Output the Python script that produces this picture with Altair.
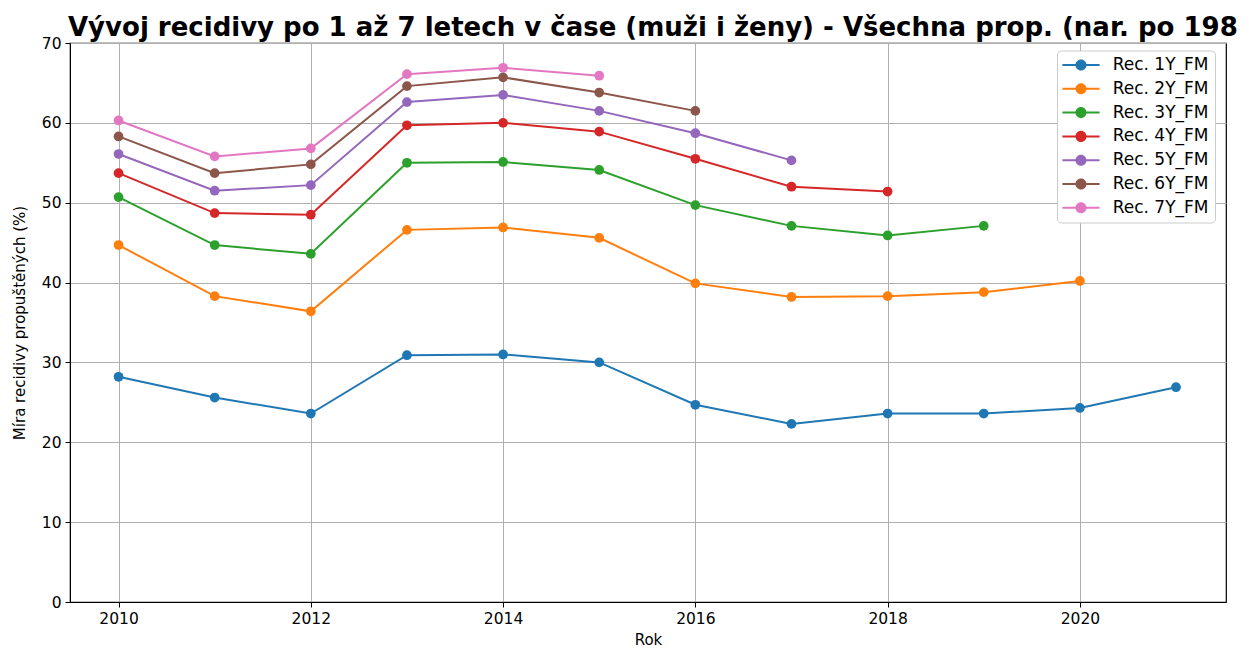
import altair as alt
import pandas as pd

years = list(range(2010, 2022))
series_names = ["Rec. 1Y_FM", "Rec. 2Y_FM", "Rec. 3Y_FM", "Rec. 4Y_FM",
                "Rec. 5Y_FM", "Rec. 6Y_FM", "Rec. 7Y_FM"]
rec1 = [28.2, 25.6, 23.6, 30.9, 31.0, 30.0, 24.7, 22.3, 23.6, 23.6, 24.3, 26.9]
rec2 = [44.7, 38.3, 36.4, 46.6, 46.9, 45.6, 39.9, 38.2, 38.3, 38.8, 40.2]
rec3 = [50.7, 44.7, 43.6, 55.0, 55.1, 54.1, 49.7, 47.1, 45.9, 47.1]
rec4 = [53.7, 48.7, 48.5, 59.7, 60.0, 58.9, 55.5, 52.0, 51.4]
rec5 = [56.1, 51.5, 52.2, 62.6, 63.5, 61.5, 58.7, 55.3]
rec6 = [58.3, 53.7, 54.8, 64.6, 65.7, 63.8, 61.5]
rec7 = [60.3, 55.8, 56.8, 66.1, 66.9, 65.9]
all_series = [rec1, rec2, rec3, rec4, rec5, rec6, rec7]
colors = ["#1f77b4", "#ff7f0e", "#2ca02c", "#d62728", "#9467bd", "#8c564b", "#e377c2"]
x_ticks = [2010, 2012, 2014, 2016, 2018, 2020]
y_ticks = [0, 10, 20, 30, 40, 50, 60, 70]

rows = []
for name, vals in zip(series_names, all_series):
    for yr, v in zip(years, vals):
        rows.append({"Rok": yr, "value": v, "series": name})
df = pd.DataFrame(rows)

FONT = "DejaVu Sans"
legend_path = ("M-6.2,-0.33L6.2,-0.33L6.2,0.33L-6.2,0.33Z "
               "M1.85,0A1.85,1.85,0,1,1,-1.85,0A1.85,1.85,0,1,1,1.85,0Z")

x_enc = alt.X("Rok:Q",
              scale=alt.Scale(domain=[2009.495, 2021.52], nice=False, zero=False),
              axis=alt.Axis(values=x_ticks, format="d", title="Rok"))
y_enc = alt.Y("value:Q",
              scale=alt.Scale(domain=[0, 70], nice=False),
              axis=alt.Axis(values=y_ticks, title="Míra recidivy propuštěných (%)"))
legend = alt.Legend(title=None, symbolType=legend_path,
                    symbolSize=36, symbolStrokeWidth=0,
                    symbolOpacity=1,
                    orient="none", legendX=987, legendY=7.5,
                    labelOffset=23.2, symbolOffset=9.5)
color_enc = alt.Color("series:N",
                      scale=alt.Scale(domain=series_names, range=colors),
                      legend=legend)

points = alt.Chart(df).mark_point(filled=True, size=95, opacity=1).encode(
    x=x_enc, y=y_enc, color=color_enc,
)
lines = alt.Chart(df).mark_line(strokeWidth=2).encode(
    x=x_enc, y=y_enc, color=color_enc,
)

chart = alt.layer(points, lines).properties(
    width=1156, height=559,
    title=alt.TitleParams(
        "Vývoj recidivy po 1 až 7 letech v čase (muži i ženy) - Všechna prop. (nar. po 198",
        anchor="start", frame="group", font=FONT, fontSize=26, fontWeight="bold",
        color="black", offset=9, dx=-2, dy=14),
    autosize=alt.AutoSizeParams(type="none"),
    padding={"left": 62, "top": 35, "right": 15, "bottom": 46},
).configure_view(
    stroke="black", strokeWidth=1.2
).configure_axis(
    labelFont=FONT, titleFont=FONT, labelFontSize=15.5, titleFontSize=15,
    labelColor="black", titleColor="black", titleFontWeight="normal",
    domainColor="black", tickColor="black", tickSize=5, labelPadding=4,
    gridColor="#b0b0b0", gridWidth=1,
).configure_axisY(
    titlePadding=14
).configure_axisX(
    titlePadding=6
).configure_legend(
    labelFont=FONT, labelFontSize=17, labelColor="black",
    fillColor="white", strokeColor="#cccccc", cornerRadius=4,
    padding=6, rowPadding=5.8,
)

chart.save("out.html", embed_options={"renderer": "svg", "actions": False})
